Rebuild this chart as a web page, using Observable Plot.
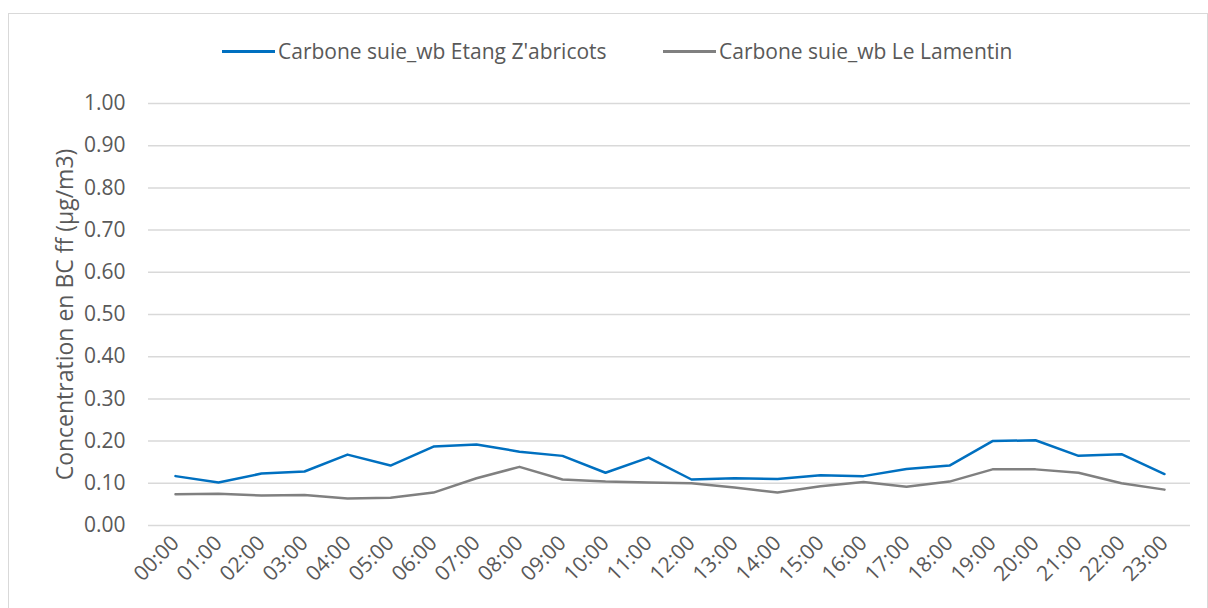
<!DOCTYPE html>
<html>
<head>
<meta charset="utf-8">
<script src="https://cdn.jsdelivr.net/npm/d3@7"></script>
<script src="https://cdn.jsdelivr.net/npm/@observablehq/plot@0.6"></script>
<style>
  html, body { margin: 0; padding: 0; background: #fff; }
  #wrap { position: relative; width: 1208px; height: 608px; overflow: hidden; font-family: "Open Sans", "Liberation Sans", sans-serif; color: #595959; }
  #frame { position: absolute; left: 8px; top: 13px; width: 1200px; height: 620px; border: 1px solid #d9d9d9; box-sizing: border-box; }
  #chart { position: absolute; left: 0; top: 0; }
  #legend { position: absolute; top: 37px; left: 0; width: 1208px; height: 30px; }
  .item { position: absolute; display: flex; align-items: center; font-size: 21px; white-space: nowrap; }
  .sw { width: 53px; height: 3px; margin-right: 3px; }
</style>
</head>
<body>
<div id="wrap">
  <div id="frame"></div>
  <div id="chart"></div>
  <div id="legend"></div>
</div>
<script>
const hours = ["00:00","01:00","02:00","03:00","04:00","05:00","06:00","07:00","08:00","09:00","10:00","11:00",
               "12:00","13:00","14:00","15:00","16:00","17:00","18:00","19:00","20:00","21:00","22:00","23:00"];
const etang = [0.117,0.102,0.123,0.128,0.168,0.142,0.187,0.192,0.175,0.165,0.125,0.161,
               0.109,0.112,0.110,0.119,0.117,0.134,0.142,0.200,0.202,0.165,0.169,0.122];
const lamentin = [0.074,0.075,0.071,0.072,0.064,0.066,0.078,0.112,0.139,0.109,0.104,0.102,
                  0.100,0.090,0.078,0.093,0.103,0.092,0.104,0.133,0.133,0.125,0.100,0.085];
const seriesNames = ["Carbone suie_wb Etang Z'abricots", "Carbone suie_wb Le Lamentin"];
const seriesColors = ["#0070C0", "#808080"];
const yTicks = [0,0.1,0.2,0.3,0.4,0.5,0.6,0.7,0.8,0.9,1.0];
const yLabel = "Concentration en BC ff (µg/m3)";

const data = hours.flatMap((h, i) => [
  {hour: h, value: etang[i], series: seriesNames[0]},
  {hour: h, value: lamentin[i], series: seriesNames[1]}
]);

const chart = Plot.plot({
  width: 1208,
  height: 608,
  marginLeft: 148,
  marginRight: 18,
  marginTop: 103,
  marginBottom: 83,
  style: {fontFamily: "'Open Sans', 'Liberation Sans', sans-serif", color: "#595959", background: "transparent"},
  x: {type: "point", domain: hours, padding: 0.5},
  y: {domain: [0, 1]},
  color: {domain: seriesNames, range: seriesColors},
  marks: [
    Plot.gridY(yTicks, {stroke: "#d9d9d9", strokeOpacity: 1, strokeWidth: 1.5}),
    Plot.axisY({ticks: yTicks, tickFormat: d3.format(".2f"), tickSize: 0, tickPadding: 23, fontSize: 21, label: null}),
    Plot.axisY({ticks: [], label: yLabel, labelAnchor: "center", labelArrow: "none", labelOffset: 92, fontSize: 23}),
    Plot.axisX({tickRotate: -45, tickSize: 0, tickPadding: 14, fontSize: 21, label: null}),
    Plot.line(data, {x: "hour", y: "value", z: "series", stroke: "series", strokeWidth: 2.5})
  ]
});
document.getElementById("chart").appendChild(chart);

const legend = document.getElementById("legend");
const lefts = [222, 663];
seriesNames.forEach((name, i) => {
  const it = document.createElement("div");
  it.className = "item";
  it.style.left = lefts[i] + "px";
  const sw = document.createElement("span");
  sw.className = "sw";
  sw.style.background = seriesColors[i];
  const tx = document.createElement("span");
  tx.textContent = name;
  it.appendChild(sw);
  it.appendChild(tx);
  legend.appendChild(it);
});
</script>
</body>
</html>
